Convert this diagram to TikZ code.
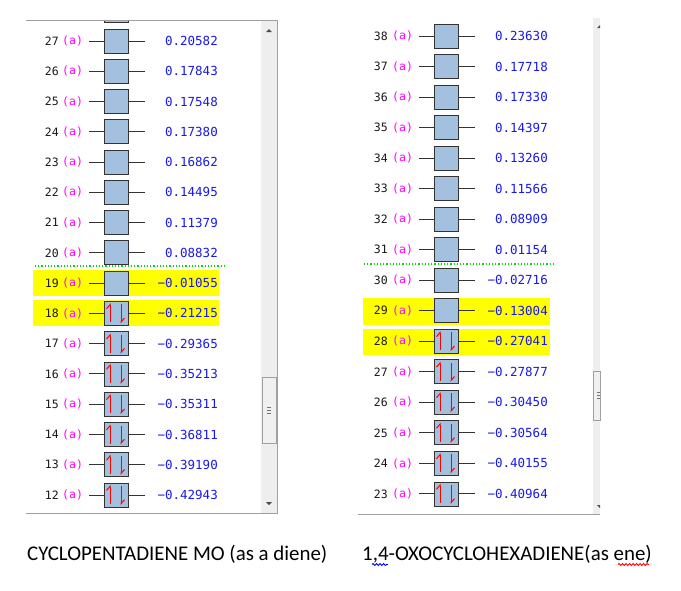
\documentclass[tikz,border=0pt]{standalone}
\usepackage{fontspec}
\setmainfont{Carlito}
\newfontfamily\orbfont{DejaVu Sans Mono}
\usetikzlibrary{arrows.meta,decorations.pathmorphing}

\definecolor{orbblue}{RGB}{163,193,223}
\definecolor{valblue}{RGB}{25,25,235}
\definecolor{amag}{RGB}{255,0,255}
\definecolor{hilite}{RGB}{255,255,0}
\definecolor{homoline}{RGB}{0,220,0}
\definecolor{barbg}{RGB}{238,238,238}
\definecolor{framegray}{RGB}{160,160,160}

\begin{document}
\begin{tikzpicture}[x=1pt,y=-1pt,
    orb/.style = {draw=black!80, fill=orbblue, line width=0.9pt, minimum size=24pt, inner sep=0pt},
    num/.style = {anchor=east, inner sep=0pt, text=black!90, font=\orbfont\fontsize{11.5}{12}\selectfont},
    sym/.style = {anchor=west, inner sep=0pt, text=amag, font=\orbfont\fontsize{11.5}{12}\selectfont},
    val/.style = {anchor=east, inner sep=0pt, text=valblue, font=\orbfont\fontsize{12.5}{13}\selectfont},
    stub/.style = {draw=black!80, line width=1pt},
    elec/.style = {red, line width=1pt, -{Straight Barb[harpoon,length=4pt,width=7pt]}},
    squig/.style = {line width=0.9pt, decorate, decoration={snake, amplitude=1pt, segment length=3.5pt}},
    caption/.style = {anchor=base west, inner sep=0pt, font=\fontsize{20.9}{24}\selectfont}]

    \useasboundingbox[fill=white] (0,0) rectangle (681,590);

    % left panel
    \fill[barbg] (261,21) rectangle (277,513);
    \draw[framegray] (26,20.5) -- (277,20.5) -- (277,513.5) -- (26,513.5);
    \draw[framegray, fill=black!6] (262,377) rectangle (276,443);
    \foreach \g in {-3,0,3}
        \draw[black!55] (267,410+\g) -- (271,410+\g);
    \fill[black!70] (266,32) -- (272,32) -- (269,29) -- cycle;
    \fill[black!70] (266,502) -- (272,502) -- (269,505) -- cycle;

    \fill[hilite] (33,270) rectangle (219,296);
    \fill[hilite] (33,300) rectangle (219,326);
    \draw[homoline, line width=1.2pt, dotted] (35,266) -- (224,266);

    \begin{scope}
        \clip (26,21) rectangle (261,513);
        \node[orb] (o28) at (116,10.7) {};
    \end{scope}

    \foreach \n/\v/\occ [count=\k from 0] in {27/0.20582/0, 26/0.17843/0, 25/0.17548/0,
        24/0.17380/0, 23/0.16862/0, 22/0.14495/0, 21/0.11379/0, 20/0.08832/0,
        19/−0.01055/0, 18/−0.21215/1, 17/−0.29365/1, 16/−0.35213/1,
        15/−0.35311/1, 14/−0.36811/1, 13/−0.39190/1, 12/−0.42943/1} {
        \pgfmathsetmacro\y{41+30.27*\k}
        \draw[stub] (89,\y) -- (145,\y);
        \node[orb] (o\n) at (116,\y) {};
        \node[num] (n\n) at (59,\y) {\n};
        \node[sym] (a\n) at (62,\y) {(a)};
        \node[val] (v\n) at (218,\y) {\v};
        \ifnum\occ=1
            \draw[elec] ([xshift=-6pt,yshift=-9pt]o\n.center) -- ([xshift=-6pt,yshift=10pt]o\n.center);
            \draw[elec] ([xshift=5pt,yshift=9pt]o\n.center) -- ([xshift=5pt,yshift=-10pt]o\n.center);
        \fi
    }

    % right panel
    \fill[barbg] (593,18) rectangle (600,514);
    \draw[framegray] (358,514.5) -- (600,514.5);
    \draw[framegray, fill=black!6] (593,371) -- (600,371) -- (600,420) -- (593,420) -- cycle;
    \foreach \g in {-3,0,3}
        \draw[black!55] (597,395+\g) -- (600,395+\g);
    \fill[black!70] (597,28) -- (600,28) -- (600,25) -- cycle;
    \fill[black!70] (597,505) -- (600,505) -- (600,508) -- cycle;

    \fill[hilite] (363,298) rectangle (550,325);
    \fill[hilite] (363,329) rectangle (550,355);
    \draw[homoline, line width=1.2pt, dotted] (364,264) -- (555,264);

    \foreach \n/\v/\occ [count=\k from 0] in {38/0.23630/0, 37/0.17718/0, 36/0.17330/0,
        35/0.14397/0, 34/0.13260/0, 33/0.11566/0, 32/0.08909/0, 31/0.01154/0,
        30/−0.02716/0, 29/−0.13004/0, 28/−0.27041/1, 27/−0.27877/1, 26/−0.30450/1,
        25/−0.30564/1, 24/−0.40155/1, 23/−0.40964/1} {
        \pgfmathsetmacro\y{36+30.53*\k}
        \draw[stub] (419,\y) -- (475,\y);
        \node[orb] (ro\n) at (446,\y) {};
        \node[num] (rn\n) at (388,\y) {\n};
        \node[sym] (ra\n) at (392,\y) {(a)};
        \node[val] (rv\n) at (548,\y) {\v};
        \ifnum\occ=1
            \draw[elec] ([xshift=-6pt,yshift=-9pt]ro\n.center) -- ([xshift=-6pt,yshift=10pt]ro\n.center);
            \draw[elec] ([xshift=5pt,yshift=9pt]ro\n.center) -- ([xshift=5pt,yshift=-10pt]ro\n.center);
        \fi
    }

    % captions
    \node[caption] (capL) at (27,560) {CYCLOPENTADIENE MO (as a diene)};
    \node[caption] (capR) at (362,560) {1,4-OXOCYCLOHEXADIENE(as ene)};
    \draw[squig, blue] (372,564.5) -- (388,564.5);
    \draw[squig, red] (618,564.5) -- (649,564.5);

\end{tikzpicture}
\end{document}
